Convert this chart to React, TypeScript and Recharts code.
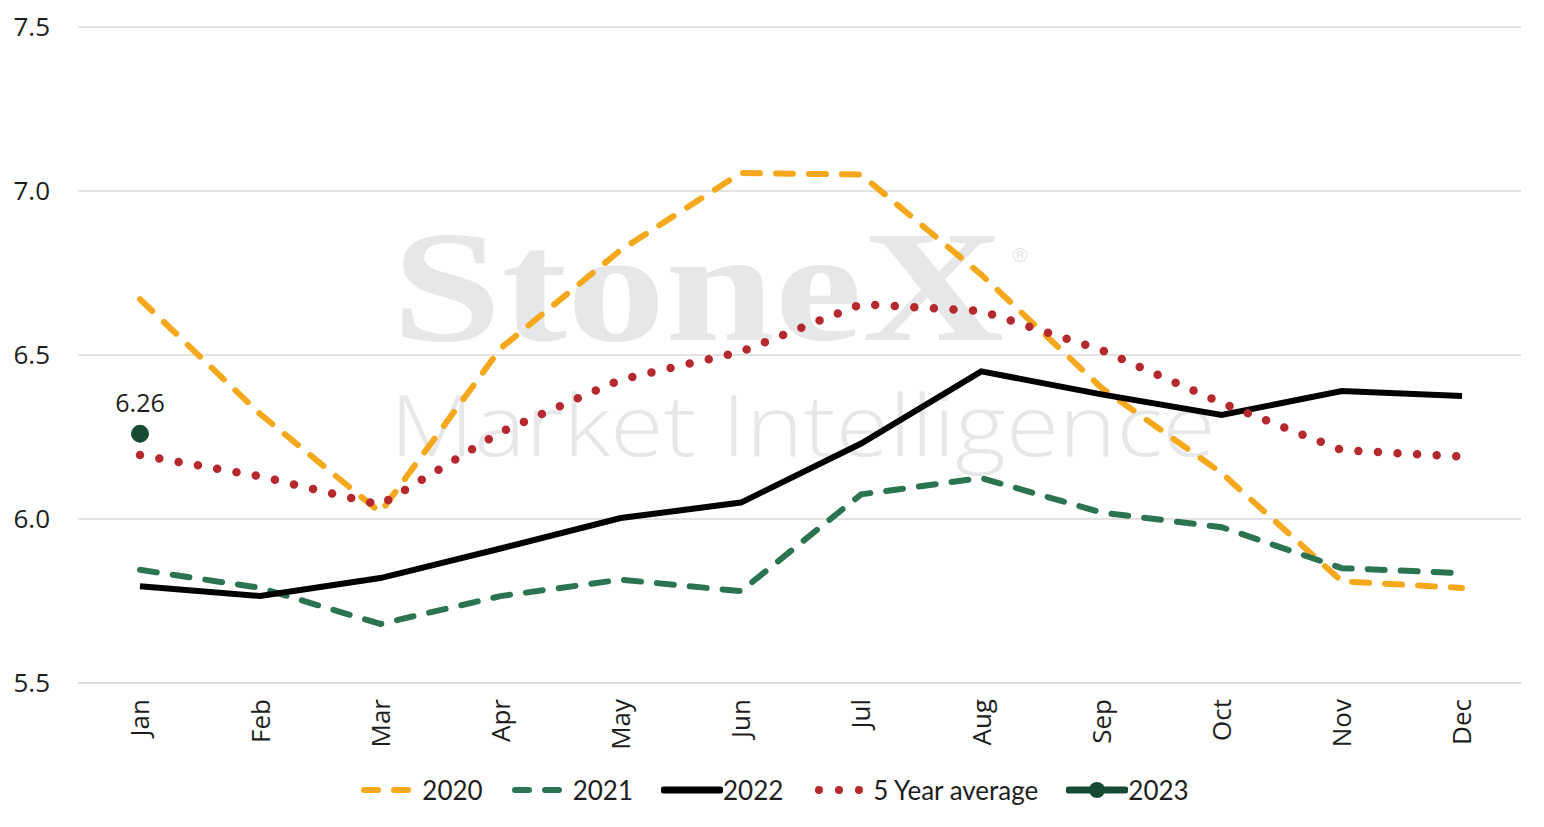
import React from 'react';
import { LineChart, Line, XAxis, YAxis, CartesianGrid, Legend, LabelList } from 'recharts';

// ─── Data ─────────────────────────────────────────────────────────────────────
const months = ['Jan', 'Feb', 'Mar', 'Apr', 'May', 'Jun', 'Jul', 'Aug', 'Sep', 'Oct', 'Nov', 'Dec'];
const y2020 = [6.67, 6.32, 6.02, 6.52, 6.82, 7.055, 7.05, 6.745, 6.4, 6.14, 5.81, 5.79];
const y2021 = [5.845, 5.79, 5.68, 5.765, 5.815, 5.78, 6.075, 6.125, 6.02, 5.975, 5.85, 5.835];
const y2022 = [5.795, 5.765, 5.82, 5.91, 6.003, 6.05, 6.23, 6.45, 6.38, 6.317, 6.39, 6.375];
const avg5 = [6.195, 6.13, 6.043, 6.265, 6.425, 6.51, 6.655, 6.634, 6.515, 6.354, 6.21, 6.19];
const y2023: (number | null)[] = [6.26, null, null, null, null, null, null, null, null, null, null, null];
const yTicks = [5.5, 6.0, 6.5, 7.0, 7.5];

const data = months.map((m, i) => ({
  month: m, y2020: y2020[i], y2021: y2021[i], y2022: y2022[i], avg5: avg5[i], y2023: y2023[i],
}));

const C = {
  orange: '#F5A81C',
  green: '#2B7452',
  black: '#000000',
  red: '#B5292E',
  dark: '#174A32',
  grid: '#DCD8D9',
  text: '#1E1E1E',
};

// ─── Rotated month tick ───────────────────────────────────────────────────────
const MonthTick = ({ x, y, payload }: any) => (
  <text
    x={x} y={y + 16} transform={`rotate(-90, ${x}, ${y + 16})`}
    textAnchor="end" dy="0.36em" fill={C.text} fontSize={26} fontFamily="Open Sans"
  >
    {payload.value}
  </text>
);

// ─── Legend ───────────────────────────────────────────────────────────────────
const legendItems = [
  { label: '2020', color: C.orange, kind: 'dash' },
  { label: '2021', color: C.green, kind: 'dash' },
  { label: '2022', color: C.black, kind: 'solid' },
  { label: '5 Year average', color: C.red, kind: 'dot' },
  { label: '2023', color: C.dark, kind: 'marker' },
];

const LegendContent = () => (
  <div style={{
    height: 60, display: 'flex', justifyContent: 'center', alignItems: 'center', gap: 28, paddingLeft: 28,
  }}>
    {legendItems.map(it => (
      <div key={it.label} style={{ display: 'flex', alignItems: 'center' }}>
        <svg width={62} height={20}>
          {it.kind === 'dash' && (
            <line x1={4} y1={10} x2={58} y2={10} stroke={it.color} strokeWidth={6}
              strokeDasharray="14 16" strokeLinecap="round" />
          )}
          {it.kind === 'solid' && (
            <line x1={3} y1={10} x2={59} y2={10} stroke={it.color} strokeWidth={7} strokeLinecap="round" />
          )}
          {it.kind === 'dot' && (
            <line x1={8} y1={10} x2={56} y2={10} stroke={it.color} strokeWidth={8}
              strokeDasharray="0 20" strokeLinecap="round" />
          )}
          {it.kind === 'marker' && (
            <g>
              <line x1={3} y1={10} x2={59} y2={10} stroke={it.color} strokeWidth={7} strokeLinecap="round" />
              <circle cx={31} cy={10} r={8} fill={it.color} />
            </g>
          )}
        </svg>
        <span style={{ fontFamily: 'Lato', fontSize: 26, color: C.text }}>{it.label}</span>
      </div>
    ))}
  </div>
);

// ─── Watermark (behind chart) ─────────────────────────────────────────────────
const Watermark = () => (
  <svg width={1544} height={827} style={{ position: 'absolute', left: 0, top: 0 }}>
    <text x={392} y={340} fontFamily="Liberation Serif" fontWeight="bold" fontSize={158}
      fill="#E6E7E8" textLength={612} lengthAdjust="spacingAndGlyphs">StoneX</text>
    <text x={1010} y={262} fontFamily="DejaVu Sans" fontSize={20} fill="#E6E7E8">®</text>
    <text x={390} y={456} fontFamily="Open Sans" fontWeight={300} fontSize={84}
      fill="#E6E7E8" textLength={826} lengthAdjust="spacingAndGlyphs">Market Intelligence</text>
  </svg>
);

export default function App() {
  return (
    <div style={{ position: 'fixed', left: 0, top: 0, width: 1544, height: 827, background: '#fff' }}>
      <Watermark />
      <div style={{ position: 'absolute', left: 0, top: 0 }}>
        <LineChart width={1544} height={827} data={data} margin={{ top: 27, right: 23, left: 0, bottom: 7 }}>
          <CartesianGrid vertical={false} stroke={C.grid} strokeWidth={1.5} />
          <XAxis
            dataKey="month" axisLine={{ stroke: C.grid, strokeWidth: 1.5 }} tickLine={false}
            tickSize={0} tickMargin={0} height={77} interval={0} tick={<MonthTick />}
            padding={{ left: 62, right: 59 }}
          />
          <YAxis
            domain={[5.5, 7.5]} ticks={yTicks} width={78} axisLine={false} tickLine={false}
            tickSize={0} tickMargin={28} tickFormatter={(v: number) => v.toFixed(1)}
            tick={{ fill: C.text, fontSize: 26, fontFamily: 'Open Sans' }}
          />
          <Legend verticalAlign="bottom" content={<LegendContent />} />
          <Line dataKey="y2020" name="2020" stroke={C.orange} strokeWidth={6} strokeDasharray="17 16"
            strokeLinecap="round" dot={false} isAnimationActive={false} />
          <Line dataKey="y2021" name="2021" stroke={C.green} strokeWidth={6} strokeDasharray="17 16"
            strokeLinecap="round" dot={false} isAnimationActive={false} />
          <Line dataKey="y2022" name="2022" stroke={C.black} strokeWidth={6}
            dot={false} isAnimationActive={false} />
          <Line dataKey="avg5" name="5 Year average" stroke={C.red} strokeWidth={8.5} strokeDasharray="0 19.6"
            strokeLinecap="round" dot={false} isAnimationActive={false} />
          <Line dataKey="y2023" name="2023" stroke={C.dark} strokeWidth={6}
            dot={{ r: 8.5, fill: C.dark, stroke: C.dark, strokeWidth: 1 }} isAnimationActive={false}>
            <LabelList dataKey="y2023" position="top" offset={22} fill={C.text} fontSize={25}
              fontFamily="Open Sans" formatter={(v: any) => (v == null ? '' : Number(v).toFixed(2))} />
          </Line>
        </LineChart>
      </div>
    </div>
  );
}
